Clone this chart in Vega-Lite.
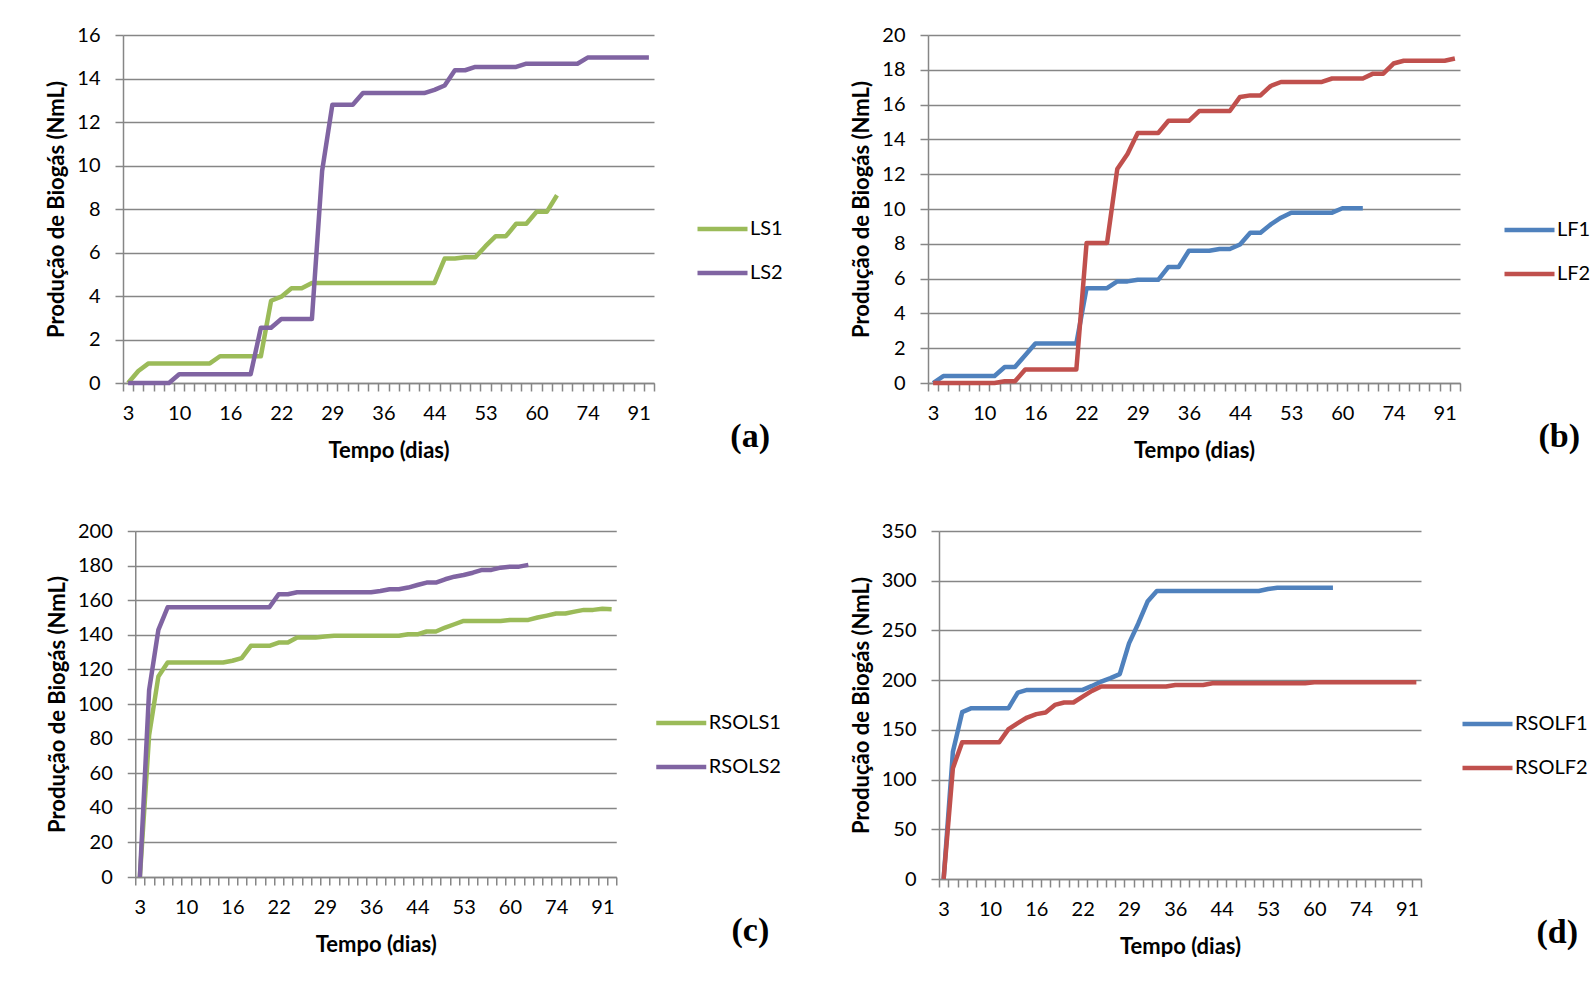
{
"$schema": "https://vega.github.io/schema/vega-lite/v6.json",
"padding": {"left": 45, "top": 25, "right": 0, "bottom": 0},
"background": "white",
"datasets": {
"a": [
{"dia":3,"serie":"LS1","valor":0},{"dia":4,"serie":"LS1","valor":0.55},{"dia":5,"serie":"LS1","valor":0.9},{"dia":7,"serie":"LS1","valor":0.9},{"dia":8,"serie":"LS1","valor":0.9},{"dia":10,"serie":"LS1","valor":0.9},{"dia":11,"serie":"LS1","valor":0.9},{"dia":12,"serie":"LS1","valor":0.9},{"dia":14,"serie":"LS1","valor":0.9},{"dia":15,"serie":"LS1","valor":1.23},{"dia":16,"serie":"LS1","valor":1.23},{"dia":17,"serie":"LS1","valor":1.23},{"dia":18,"serie":"LS1","valor":1.23},{"dia":19,"serie":"LS1","valor":1.23},{"dia":21,"serie":"LS1","valor":3.78},{"dia":22,"serie":"LS1","valor":3.97},{"dia":23,"serie":"LS1","valor":4.36},{"dia":24,"serie":"LS1","valor":4.36},{"dia":25,"serie":"LS1","valor":4.6},{"dia":28,"serie":"LS1","valor":4.6},{"dia":29,"serie":"LS1","valor":4.6},{"dia":30,"serie":"LS1","valor":4.6},{"dia":31,"serie":"LS1","valor":4.6},{"dia":32,"serie":"LS1","valor":4.6},{"dia":35,"serie":"LS1","valor":4.6},{"dia":36,"serie":"LS1","valor":4.6},{"dia":37,"serie":"LS1","valor":4.6},{"dia":38,"serie":"LS1","valor":4.6},{"dia":39,"serie":"LS1","valor":4.6},{"dia":42,"serie":"LS1","valor":4.6},{"dia":44,"serie":"LS1","valor":4.6},{"dia":45,"serie":"LS1","valor":5.72},{"dia":49,"serie":"LS1","valor":5.72},{"dia":50,"serie":"LS1","valor":5.78},{"dia":51,"serie":"LS1","valor":5.78},{"dia":53,"serie":"LS1","valor":6.29},{"dia":56,"serie":"LS1","valor":6.75},{"dia":57,"serie":"LS1","valor":6.75},{"dia":58,"serie":"LS1","valor":7.32},{"dia":59,"serie":"LS1","valor":7.32},{"dia":60,"serie":"LS1","valor":7.87},{"dia":63,"serie":"LS1","valor":7.87},{"dia":65,"serie":"LS1","valor":8.63},
{"dia":3,"serie":"LS2","valor":0},{"dia":4,"serie":"LS2","valor":0},{"dia":5,"serie":"LS2","valor":0},{"dia":7,"serie":"LS2","valor":0},{"dia":8,"serie":"LS2","valor":0},{"dia":10,"serie":"LS2","valor":0.4},{"dia":11,"serie":"LS2","valor":0.4},{"dia":12,"serie":"LS2","valor":0.4},{"dia":14,"serie":"LS2","valor":0.4},{"dia":15,"serie":"LS2","valor":0.4},{"dia":16,"serie":"LS2","valor":0.4},{"dia":17,"serie":"LS2","valor":0.4},{"dia":18,"serie":"LS2","valor":0.4},{"dia":19,"serie":"LS2","valor":2.54},{"dia":21,"serie":"LS2","valor":2.54},{"dia":22,"serie":"LS2","valor":2.94},{"dia":23,"serie":"LS2","valor":2.94},{"dia":24,"serie":"LS2","valor":2.94},{"dia":25,"serie":"LS2","valor":2.94},{"dia":28,"serie":"LS2","valor":9.75},{"dia":29,"serie":"LS2","valor":12.79},{"dia":30,"serie":"LS2","valor":12.79},{"dia":31,"serie":"LS2","valor":12.79},{"dia":32,"serie":"LS2","valor":13.33},{"dia":35,"serie":"LS2","valor":13.33},{"dia":36,"serie":"LS2","valor":13.33},{"dia":37,"serie":"LS2","valor":13.33},{"dia":38,"serie":"LS2","valor":13.33},{"dia":39,"serie":"LS2","valor":13.33},{"dia":42,"serie":"LS2","valor":13.33},{"dia":44,"serie":"LS2","valor":13.48},{"dia":45,"serie":"LS2","valor":13.68},{"dia":49,"serie":"LS2","valor":14.38},{"dia":50,"serie":"LS2","valor":14.38},{"dia":51,"serie":"LS2","valor":14.53},{"dia":53,"serie":"LS2","valor":14.53},{"dia":56,"serie":"LS2","valor":14.53},{"dia":57,"serie":"LS2","valor":14.53},{"dia":58,"serie":"LS2","valor":14.53},{"dia":59,"serie":"LS2","valor":14.68},{"dia":60,"serie":"LS2","valor":14.68},{"dia":63,"serie":"LS2","valor":14.68},{"dia":65,"serie":"LS2","valor":14.68},{"dia":67,"serie":"LS2","valor":14.68},{"dia":70,"serie":"LS2","valor":14.68},{"dia":74,"serie":"LS2","valor":14.96},{"dia":77,"serie":"LS2","valor":14.96},{"dia":81,"serie":"LS2","valor":14.96},{"dia":84,"serie":"LS2","valor":14.96},{"dia":88,"serie":"LS2","valor":14.96},{"dia":91,"serie":"LS2","valor":14.96},{"dia":95,"serie":"LS2","valor":14.96}
],
"b": [
{"dia":3,"serie":"LF1","valor":0},{"dia":4,"serie":"LF1","valor":0.4},{"dia":5,"serie":"LF1","valor":0.4},{"dia":7,"serie":"LF1","valor":0.4},{"dia":8,"serie":"LF1","valor":0.4},{"dia":10,"serie":"LF1","valor":0.4},{"dia":11,"serie":"LF1","valor":0.4},{"dia":12,"serie":"LF1","valor":0.92},{"dia":14,"serie":"LF1","valor":0.92},{"dia":15,"serie":"LF1","valor":1.6},{"dia":16,"serie":"LF1","valor":2.27},{"dia":17,"serie":"LF1","valor":2.27},{"dia":18,"serie":"LF1","valor":2.27},{"dia":19,"serie":"LF1","valor":2.27},{"dia":21,"serie":"LF1","valor":2.27},{"dia":22,"serie":"LF1","valor":5.45},{"dia":23,"serie":"LF1","valor":5.45},{"dia":24,"serie":"LF1","valor":5.45},{"dia":25,"serie":"LF1","valor":5.84},{"dia":28,"serie":"LF1","valor":5.84},{"dia":29,"serie":"LF1","valor":5.93},{"dia":30,"serie":"LF1","valor":5.93},{"dia":31,"serie":"LF1","valor":5.93},{"dia":32,"serie":"LF1","valor":6.67},{"dia":35,"serie":"LF1","valor":6.67},{"dia":36,"serie":"LF1","valor":7.6},{"dia":37,"serie":"LF1","valor":7.6},{"dia":38,"serie":"LF1","valor":7.6},{"dia":39,"serie":"LF1","valor":7.7},{"dia":42,"serie":"LF1","valor":7.7},{"dia":44,"serie":"LF1","valor":7.96},{"dia":45,"serie":"LF1","valor":8.63},{"dia":49,"serie":"LF1","valor":8.63},{"dia":50,"serie":"LF1","valor":9.11},{"dia":51,"serie":"LF1","valor":9.5},{"dia":53,"serie":"LF1","valor":9.79},{"dia":56,"serie":"LF1","valor":9.79},{"dia":57,"serie":"LF1","valor":9.79},{"dia":58,"serie":"LF1","valor":9.79},{"dia":59,"serie":"LF1","valor":9.79},{"dia":60,"serie":"LF1","valor":10.04},{"dia":63,"serie":"LF1","valor":10.04},{"dia":65,"serie":"LF1","valor":10.04},
{"dia":3,"serie":"LF2","valor":0},{"dia":4,"serie":"LF2","valor":0},{"dia":5,"serie":"LF2","valor":0},{"dia":7,"serie":"LF2","valor":0},{"dia":8,"serie":"LF2","valor":0},{"dia":10,"serie":"LF2","valor":0},{"dia":11,"serie":"LF2","valor":0},{"dia":12,"serie":"LF2","valor":0.1},{"dia":14,"serie":"LF2","valor":0.1},{"dia":15,"serie":"LF2","valor":0.77},{"dia":16,"serie":"LF2","valor":0.77},{"dia":17,"serie":"LF2","valor":0.77},{"dia":18,"serie":"LF2","valor":0.77},{"dia":19,"serie":"LF2","valor":0.77},{"dia":21,"serie":"LF2","valor":0.77},{"dia":22,"serie":"LF2","valor":8.05},{"dia":23,"serie":"LF2","valor":8.05},{"dia":24,"serie":"LF2","valor":8.05},{"dia":25,"serie":"LF2","valor":12.3},{"dia":28,"serie":"LF2","valor":13.16},{"dia":29,"serie":"LF2","valor":14.37},{"dia":30,"serie":"LF2","valor":14.37},{"dia":31,"serie":"LF2","valor":14.37},{"dia":32,"serie":"LF2","valor":15.07},{"dia":35,"serie":"LF2","valor":15.07},{"dia":36,"serie":"LF2","valor":15.07},{"dia":37,"serie":"LF2","valor":15.63},{"dia":38,"serie":"LF2","valor":15.63},{"dia":39,"serie":"LF2","valor":15.63},{"dia":42,"serie":"LF2","valor":15.63},{"dia":44,"serie":"LF2","valor":16.44},{"dia":45,"serie":"LF2","valor":16.53},{"dia":49,"serie":"LF2","valor":16.53},{"dia":50,"serie":"LF2","valor":17.07},{"dia":51,"serie":"LF2","valor":17.3},{"dia":53,"serie":"LF2","valor":17.3},{"dia":56,"serie":"LF2","valor":17.3},{"dia":57,"serie":"LF2","valor":17.3},{"dia":58,"serie":"LF2","valor":17.3},{"dia":59,"serie":"LF2","valor":17.5},{"dia":60,"serie":"LF2","valor":17.5},{"dia":63,"serie":"LF2","valor":17.5},{"dia":65,"serie":"LF2","valor":17.5},{"dia":67,"serie":"LF2","valor":17.78},{"dia":70,"serie":"LF2","valor":17.78},{"dia":74,"serie":"LF2","valor":18.36},{"dia":77,"serie":"LF2","valor":18.52},{"dia":81,"serie":"LF2","valor":18.52},{"dia":84,"serie":"LF2","valor":18.52},{"dia":88,"serie":"LF2","valor":18.52},{"dia":91,"serie":"LF2","valor":18.52},{"dia":95,"serie":"LF2","valor":18.65}
],
"c": [
{"dia":3,"serie":"RSOLS1","valor":0},{"dia":4,"serie":"RSOLS1","valor":82},{"dia":5,"serie":"RSOLS1","valor":115.9},{"dia":7,"serie":"RSOLS1","valor":124},{"dia":8,"serie":"RSOLS1","valor":124},{"dia":10,"serie":"RSOLS1","valor":124},{"dia":11,"serie":"RSOLS1","valor":124},{"dia":12,"serie":"RSOLS1","valor":124},{"dia":14,"serie":"RSOLS1","valor":124},{"dia":15,"serie":"RSOLS1","valor":124},{"dia":16,"serie":"RSOLS1","valor":125},{"dia":17,"serie":"RSOLS1","valor":126.5},{"dia":18,"serie":"RSOLS1","valor":133.6},{"dia":19,"serie":"RSOLS1","valor":133.6},{"dia":21,"serie":"RSOLS1","valor":133.6},{"dia":22,"serie":"RSOLS1","valor":135.5},{"dia":23,"serie":"RSOLS1","valor":135.5},{"dia":24,"serie":"RSOLS1","valor":138.4},{"dia":25,"serie":"RSOLS1","valor":138.4},{"dia":28,"serie":"RSOLS1","valor":138.4},{"dia":29,"serie":"RSOLS1","valor":139},{"dia":30,"serie":"RSOLS1","valor":139.4},{"dia":31,"serie":"RSOLS1","valor":139.4},{"dia":32,"serie":"RSOLS1","valor":139.4},{"dia":35,"serie":"RSOLS1","valor":139.4},{"dia":36,"serie":"RSOLS1","valor":139.4},{"dia":37,"serie":"RSOLS1","valor":139.4},{"dia":38,"serie":"RSOLS1","valor":139.4},{"dia":39,"serie":"RSOLS1","valor":139.4},{"dia":42,"serie":"RSOLS1","valor":140.3},{"dia":44,"serie":"RSOLS1","valor":140.3},{"dia":45,"serie":"RSOLS1","valor":141.9},{"dia":49,"serie":"RSOLS1","valor":141.9},{"dia":50,"serie":"RSOLS1","valor":144.2},{"dia":51,"serie":"RSOLS1","valor":146.1},{"dia":53,"serie":"RSOLS1","valor":148},{"dia":56,"serie":"RSOLS1","valor":148},{"dia":57,"serie":"RSOLS1","valor":148},{"dia":58,"serie":"RSOLS1","valor":148},{"dia":59,"serie":"RSOLS1","valor":148},{"dia":60,"serie":"RSOLS1","valor":148.6},{"dia":63,"serie":"RSOLS1","valor":148.6},{"dia":65,"serie":"RSOLS1","valor":148.6},{"dia":67,"serie":"RSOLS1","valor":150},{"dia":70,"serie":"RSOLS1","valor":151.1},{"dia":74,"serie":"RSOLS1","valor":152.3},{"dia":77,"serie":"RSOLS1","valor":152.3},{"dia":81,"serie":"RSOLS1","valor":153.4},{"dia":84,"serie":"RSOLS1","valor":154.4},{"dia":88,"serie":"RSOLS1","valor":154.4},{"dia":91,"serie":"RSOLS1","valor":155},{"dia":95,"serie":"RSOLS1","valor":154.8},
{"dia":3,"serie":"RSOLS2","valor":0},{"dia":4,"serie":"RSOLS2","valor":108},{"dia":5,"serie":"RSOLS2","valor":142.8},{"dia":7,"serie":"RSOLS2","valor":155.9},{"dia":8,"serie":"RSOLS2","valor":155.9},{"dia":10,"serie":"RSOLS2","valor":155.9},{"dia":11,"serie":"RSOLS2","valor":155.9},{"dia":12,"serie":"RSOLS2","valor":155.9},{"dia":14,"serie":"RSOLS2","valor":155.9},{"dia":15,"serie":"RSOLS2","valor":155.9},{"dia":16,"serie":"RSOLS2","valor":155.9},{"dia":17,"serie":"RSOLS2","valor":155.9},{"dia":18,"serie":"RSOLS2","valor":155.9},{"dia":19,"serie":"RSOLS2","valor":155.9},{"dia":21,"serie":"RSOLS2","valor":155.9},{"dia":22,"serie":"RSOLS2","valor":163.4},{"dia":23,"serie":"RSOLS2","valor":163.4},{"dia":24,"serie":"RSOLS2","valor":164.6},{"dia":25,"serie":"RSOLS2","valor":164.6},{"dia":28,"serie":"RSOLS2","valor":164.6},{"dia":29,"serie":"RSOLS2","valor":164.6},{"dia":30,"serie":"RSOLS2","valor":164.6},{"dia":31,"serie":"RSOLS2","valor":164.6},{"dia":32,"serie":"RSOLS2","valor":164.6},{"dia":35,"serie":"RSOLS2","valor":164.6},{"dia":36,"serie":"RSOLS2","valor":164.6},{"dia":37,"serie":"RSOLS2","valor":165.3},{"dia":38,"serie":"RSOLS2","valor":166.3},{"dia":39,"serie":"RSOLS2","valor":166.3},{"dia":42,"serie":"RSOLS2","valor":167.3},{"dia":44,"serie":"RSOLS2","valor":168.8},{"dia":45,"serie":"RSOLS2","valor":170.2},{"dia":49,"serie":"RSOLS2","valor":170.2},{"dia":50,"serie":"RSOLS2","valor":172.1},{"dia":51,"serie":"RSOLS2","valor":173.6},{"dia":53,"serie":"RSOLS2","valor":174.6},{"dia":56,"serie":"RSOLS2","valor":175.9},{"dia":57,"serie":"RSOLS2","valor":177.5},{"dia":58,"serie":"RSOLS2","valor":177.5},{"dia":59,"serie":"RSOLS2","valor":178.8},{"dia":60,"serie":"RSOLS2","valor":179.4},{"dia":63,"serie":"RSOLS2","valor":179.4},{"dia":65,"serie":"RSOLS2","valor":180.4}
],
"d": [
{"dia":3,"serie":"RSOLF1","valor":0},{"dia":4,"serie":"RSOLF1","valor":128},{"dia":5,"serie":"RSOLF1","valor":167.8},{"dia":7,"serie":"RSOLF1","valor":171.8},{"dia":8,"serie":"RSOLF1","valor":171.8},{"dia":10,"serie":"RSOLF1","valor":171.8},{"dia":11,"serie":"RSOLF1","valor":171.8},{"dia":12,"serie":"RSOLF1","valor":171.8},{"dia":14,"serie":"RSOLF1","valor":187.5},{"dia":15,"serie":"RSOLF1","valor":190.2},{"dia":16,"serie":"RSOLF1","valor":190.2},{"dia":17,"serie":"RSOLF1","valor":190.2},{"dia":18,"serie":"RSOLF1","valor":190.2},{"dia":19,"serie":"RSOLF1","valor":190.2},{"dia":21,"serie":"RSOLF1","valor":190.2},{"dia":22,"serie":"RSOLF1","valor":190.2},{"dia":23,"serie":"RSOLF1","valor":194.2},{"dia":24,"serie":"RSOLF1","valor":198.6},{"dia":25,"serie":"RSOLF1","valor":202},{"dia":28,"serie":"RSOLF1","valor":206},{"dia":29,"serie":"RSOLF1","valor":237},{"dia":30,"serie":"RSOLF1","valor":257},{"dia":31,"serie":"RSOLF1","valor":279},{"dia":32,"serie":"RSOLF1","valor":289.7},{"dia":35,"serie":"RSOLF1","valor":289.7},{"dia":36,"serie":"RSOLF1","valor":289.7},{"dia":37,"serie":"RSOLF1","valor":289.7},{"dia":38,"serie":"RSOLF1","valor":289.7},{"dia":39,"serie":"RSOLF1","valor":289.7},{"dia":42,"serie":"RSOLF1","valor":289.7},{"dia":44,"serie":"RSOLF1","valor":289.7},{"dia":45,"serie":"RSOLF1","valor":289.7},{"dia":49,"serie":"RSOLF1","valor":289.7},{"dia":50,"serie":"RSOLF1","valor":289.7},{"dia":51,"serie":"RSOLF1","valor":289.7},{"dia":53,"serie":"RSOLF1","valor":291.7},{"dia":56,"serie":"RSOLF1","valor":293},{"dia":57,"serie":"RSOLF1","valor":293},{"dia":58,"serie":"RSOLF1","valor":293},{"dia":59,"serie":"RSOLF1","valor":293},{"dia":60,"serie":"RSOLF1","valor":293},{"dia":63,"serie":"RSOLF1","valor":293},{"dia":65,"serie":"RSOLF1","valor":293},
{"dia":3,"serie":"RSOLF2","valor":0},{"dia":4,"serie":"RSOLF2","valor":111.5},{"dia":5,"serie":"RSOLF2","valor":137.6},{"dia":7,"serie":"RSOLF2","valor":137.6},{"dia":8,"serie":"RSOLF2","valor":137.6},{"dia":10,"serie":"RSOLF2","valor":137.6},{"dia":11,"serie":"RSOLF2","valor":137.6},{"dia":12,"serie":"RSOLF2","valor":150.7},{"dia":14,"serie":"RSOLF2","valor":156.7},{"dia":15,"serie":"RSOLF2","valor":162.4},{"dia":16,"serie":"RSOLF2","valor":165.8},{"dia":17,"serie":"RSOLF2","valor":167.4},{"dia":18,"serie":"RSOLF2","valor":175.1},{"dia":19,"serie":"RSOLF2","valor":177.5},{"dia":21,"serie":"RSOLF2","valor":177.5},{"dia":22,"serie":"RSOLF2","valor":183.5},{"dia":23,"serie":"RSOLF2","valor":189.2},{"dia":24,"serie":"RSOLF2","valor":193.6},{"dia":25,"serie":"RSOLF2","valor":193.6},{"dia":28,"serie":"RSOLF2","valor":193.6},{"dia":29,"serie":"RSOLF2","valor":193.6},{"dia":30,"serie":"RSOLF2","valor":193.6},{"dia":31,"serie":"RSOLF2","valor":193.6},{"dia":32,"serie":"RSOLF2","valor":193.6},{"dia":35,"serie":"RSOLF2","valor":193.6},{"dia":36,"serie":"RSOLF2","valor":195.2},{"dia":37,"serie":"RSOLF2","valor":195.2},{"dia":38,"serie":"RSOLF2","valor":195.2},{"dia":39,"serie":"RSOLF2","valor":195.2},{"dia":42,"serie":"RSOLF2","valor":196.9},{"dia":44,"serie":"RSOLF2","valor":196.9},{"dia":45,"serie":"RSOLF2","valor":196.9},{"dia":49,"serie":"RSOLF2","valor":196.9},{"dia":50,"serie":"RSOLF2","valor":196.9},{"dia":51,"serie":"RSOLF2","valor":196.9},{"dia":53,"serie":"RSOLF2","valor":196.9},{"dia":56,"serie":"RSOLF2","valor":196.9},{"dia":57,"serie":"RSOLF2","valor":196.9},{"dia":58,"serie":"RSOLF2","valor":196.9},{"dia":59,"serie":"RSOLF2","valor":196.9},{"dia":60,"serie":"RSOLF2","valor":197.9},{"dia":63,"serie":"RSOLF2","valor":197.9},{"dia":65,"serie":"RSOLF2","valor":197.9},{"dia":67,"serie":"RSOLF2","valor":197.9},{"dia":70,"serie":"RSOLF2","valor":197.9},{"dia":74,"serie":"RSOLF2","valor":197.9},{"dia":77,"serie":"RSOLF2","valor":197.9},{"dia":81,"serie":"RSOLF2","valor":197.9},{"dia":84,"serie":"RSOLF2","valor":197.9},{"dia":88,"serie":"RSOLF2","valor":197.9},{"dia":91,"serie":"RSOLF2","valor":197.9},{"dia":95,"serie":"RSOLF2","valor":197.9}
]
},
"hconcat": [
{
"vconcat": [
{
"width": 531, "height": 348,
"data": {"name": "a"},
"title": {"text": "(a)", "orient": "bottom", "anchor": "end", "frame": "group", "dx": 116, "offset": -41},
"mark": {"type": "line", "strokeWidth": 4.5, "strokeJoin": "round", "strokeCap": "butt"},
"encoding": {
"x": {"field": "dia", "type": "ordinal", "bandPosition": 0.5, "scale": {"type": "band", "paddingInner": 0, "paddingOuter": 0}, "axis": {"title": "Tempo (dias)"}},
"y": {"field": "valor", "type": "quantitative", "scale": {"domain": [0, 16], "nice": false}, "axis": {"values": [0,2,4,6,8,10,12,14,16], "title": "Produção de Biogás (NmL)"}},
"color": {"field": "serie", "type": "nominal", "scale": {"domain": ["LS1","LS2"], "range": ["#9BBB59","#8064A2"]}, "legend": {"legendX": 561, "legendY": 162, "padding": 11}}
}
},
{
"width": 481, "height": 346,
"data": {"name": "c"},
"title": {"text": "(c)", "orient": "bottom", "anchor": "end", "frame": "group", "dx": 153, "offset": -41},
"mark": {"type": "line", "strokeWidth": 4.5, "strokeJoin": "round", "strokeCap": "butt"},
"encoding": {
"x": {"field": "dia", "type": "ordinal", "bandPosition": 0.5, "scale": {"type": "band", "paddingInner": 0, "paddingOuter": 0}, "axis": {"title": "Tempo (dias)"}},
"y": {"field": "valor", "type": "quantitative", "scale": {"domain": [0, 200], "nice": false}, "axis": {"values": [0,20,40,60,80,100,120,140,160,180,200], "title": "Produção de Biogás (NmL)"}},
"color": {"field": "serie", "type": "nominal", "scale": {"domain": ["RSOLS1","RSOLS2"], "range": ["#9BBB59","#8064A2"]}, "legend": {"legendX": 518.5, "legendY": 171, "padding": 0}}
}
}
],
"spacing": 60,
"center": true,
"resolve": {"scale": {"color": "independent", "x": "independent", "y": "independent"}, "legend": {"color": "independent"}}
},
{
"vconcat": [
{
"width": 532, "height": 348,
"data": {"name": "b"},
"title": {"text": "(b)", "orient": "bottom", "anchor": "end", "frame": "group", "dx": 120, "offset": -41},
"mark": {"type": "line", "strokeWidth": 4.5, "strokeJoin": "round", "strokeCap": "butt"},
"encoding": {
"x": {"field": "dia", "type": "ordinal", "bandPosition": 0.5, "scale": {"type": "band", "paddingInner": 0, "paddingOuter": 0}, "axis": {"title": "Tempo (dias)"}},
"y": {"field": "valor", "type": "quantitative", "scale": {"domain": [0, 20], "nice": false}, "axis": {"values": [0,2,4,6,8,10,12,14,16,18,20], "title": "Produção de Biogás (NmL)"}},
"color": {"field": "serie", "type": "nominal", "scale": {"domain": ["LF1","LF2"], "range": ["#4F81BD","#C0504D"]}, "legend": {"legendX": 566, "legendY": 166, "padding": 8}}
}
},
{
"width": 482, "height": 348,
"data": {"name": "d"},
"title": {"text": "(d)", "orient": "bottom", "anchor": "end", "frame": "group", "dx": 157, "offset": -41},
"mark": {"type": "line", "strokeWidth": 4.5, "strokeJoin": "round", "strokeCap": "butt"},
"encoding": {
"x": {"field": "dia", "type": "ordinal", "bandPosition": 0.5, "scale": {"type": "band", "paddingInner": 0, "paddingOuter": 0}, "axis": {"title": "Tempo (dias)"}},
"y": {"field": "valor", "type": "quantitative", "scale": {"domain": [0, 350], "nice": false}, "axis": {"values": [0,50,100,150,200,250,300,350], "title": "Produção de Biogás (NmL)"}},
"color": {"field": "serie", "type": "nominal", "scale": {"domain": ["RSOLF1","RSOLF2"], "range": ["#4F81BD","#C0504D"]}, "legend": {"legendX": 521, "legendY": 172, "padding": 0}}
}
}
],
"spacing": 60,
"center": true,
"resolve": {"scale": {"color": "independent", "x": "independent", "y": "independent"}, "legend": {"color": "independent"}}
}
],
"spacing": 56,
"resolve": {"scale": {"color": "independent", "x": "independent", "y": "independent"}, "legend": {"color": "independent"}},
"config": {
"font": "Lato",
"view": {"stroke": null},
"title": {"font": "Liberation Serif", "fontWeight": "bold", "fontSize": 34, "color": "#000000", "baseline": "top"},
"axis": {"labelFont": "Lato", "labelFontSize": 20, "labelColor": "#000000", "titleFont": "Lato", "titleFontSize": 22, "titleFontWeight": "bold", "titleColor": "#000000", "domainColor": "#868686", "tickColor": "#868686", "gridColor": "#868686", "domainWidth": 1.5, "tickWidth": 1.5, "gridWidth": 1.5, "tickSize": 8},
"axisX": {"grid": false, "labelAngle": 0, "tickBand": "extent", "labelPadding": 12, "titlePadding": 17, "labelOverlap": false, "labelExpr": "indexof([3,10,16,22,29,36,44,53,60,74,91], datum.value) >= 0 ? datum.label : ''"},
"axisY": {"labelPadding": 15, "titlePadding": 8, "grid": true},
"legend": {"orient": "none", "title": null, "symbolType": "stroke", "symbolSize": 2500, "symbolStrokeWidth": 4.5, "labelFont": "Lato", "labelFontSize": 20, "labelColor": "#000000", "labelOffset": 0, "clipHeight": 42, "rowPadding": 2}
}
}
